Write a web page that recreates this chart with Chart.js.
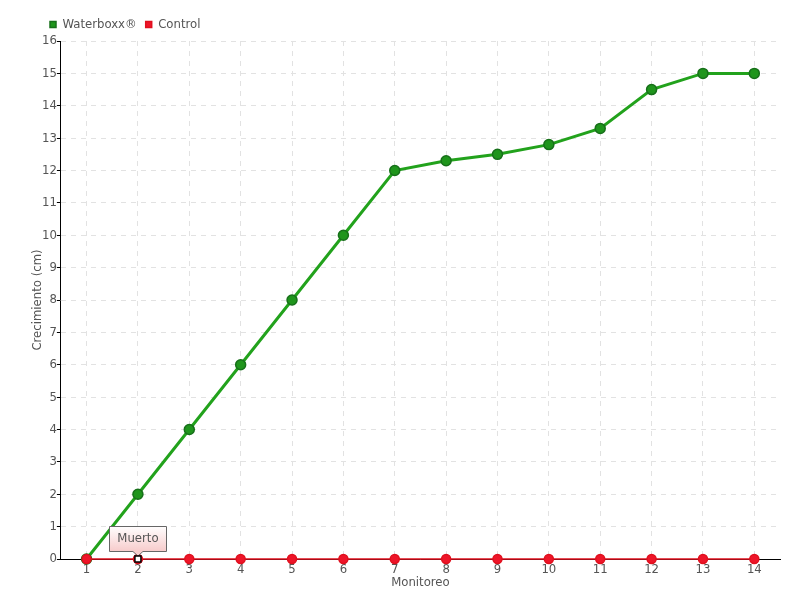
<!DOCTYPE html>
<html>
<head>
<meta charset="utf-8">
<script src="https://cdn.jsdelivr.net/npm/chart.js@4.4.0/dist/chart.umd.min.js"></script>
<style>
  body { margin: 0; background: #fff; }
</style>
</head>
<body>
<canvas id="grafico" width="800" height="600"></canvas>
<script>
const monitoreos = ["1", "2", "3", "4", "5", "6", "7", "8", "9", "10", "11", "12", "13", "14"];
const waterboxx = [0, 2, 4, 6, 8, 10, 12, 12.3, 12.5, 12.8, 13.3, 14.5, 15, 15];
const control = [0, 0, 0, 0, 0, 0, 0, 0, 0, 0, 0, 0, 0, 0];
const notaIndice = 1;
const notaTexto = "Muerto";

const fuente = "'DejaVu Sans Condensed', 'Liberation Sans Narrow', sans-serif";
const gris = '#555';

// caja "Muerto" sobre el punto del control
const notaPlugin = {
  id: 'nota',
  afterLayout(chart) {
    // leyenda un poco más a la derecha, como en el original
    chart.legend.left += 8;
  },
  afterDatasetsDraw(chart) {
    const ctx = chart.ctx;
    const x = chart.scales.x.getPixelForValue(notaIndice);
    const y = chart.scales.y.getPixelForValue(control[notaIndice]);
    ctx.save();
    ctx.font = "13px " + fuente;
    const w = Math.round(ctx.measureText(notaTexto).width + 16);
    const h = 25;
    const bx = Math.round(x - w / 2), by = Math.round(y - 8 - h);
    const grad = ctx.createLinearGradient(0, by, 0, by + h);
    grad.addColorStop(0, '#ffffff');
    grad.addColorStop(1, '#f7cccc');
    ctx.fillStyle = grad;
    ctx.strokeStyle = '#666';
    ctx.lineWidth = 1;
    ctx.beginPath();
    ctx.moveTo(bx + 0.5, by + 0.5);
    ctx.lineTo(bx + w + 0.5, by + 0.5);
    ctx.lineTo(bx + w + 0.5, by + h + 0.5);
    ctx.lineTo(x + 5, by + h + 0.5);
    ctx.lineTo(x, by + h + 5);
    ctx.lineTo(x - 5, by + h + 0.5);
    ctx.lineTo(bx + 0.5, by + h + 0.5);
    ctx.closePath();
    ctx.fill();
    ctx.stroke();
    ctx.fillStyle = gris;
    ctx.textAlign = 'center';
    ctx.textBaseline = 'middle';
    ctx.fillText(notaTexto, x, by + h / 2);
    ctx.fillStyle = '#fff';
    ctx.strokeStyle = '#000';
    ctx.lineWidth = 1.5;
    ctx.fillRect(x - 3, y - 3, 6, 6);
    ctx.strokeRect(x - 3, y - 3, 6, 6);
    ctx.restore();
  }
};

const ctx = document.getElementById('grafico').getContext('2d');
new Chart(ctx, {
  type: 'line',
  data: {
    labels: monitoreos,
    datasets: [{
      label: 'Waterboxx®',
      data: waterboxx,
      borderColor: '#22a21c',
      backgroundColor: '#1f951c',
      pointBorderColor: '#17701a',
      pointBorderWidth: 1.5,
      borderWidth: 3,
      pointRadius: 5,
      tension: 0,
      fill: false,
      clip: false,
      order: 1
    }, {
      label: 'Control',
      data: control,
      borderColor: '#e0101e',
      backgroundColor: '#ee1529',
      pointBorderColor: '#e0101e',
      borderWidth: 1.5,
      pointRadius: 4.5,
      tension: 0,
      fill: false,
      clip: false,
      order: 0
    }]
  },
  options: {
    responsive: false,
    animation: false,
    layout: { padding: { left: 33, right: 20, top: 9, bottom: 11 } },
    plugins: {
      legend: {
        align: 'start',
        labels: {
          usePointStyle: true,
          pointStyle: 'rect',
          boxWidth: 6,
          boxHeight: 6,
          padding: 9,
          color: gris,
          font: { family: fuente, size: 13 },
          sort: (a, b) => a.datasetIndex - b.datasetIndex
        }
      },
      tooltip: { enabled: false }
    },
    scales: {
      x: {
        offset: true,
        grid: { color: '#e2e2e2', tickLength: 4, tickColor: '#666' },
        border: { color: '#000', width: 1, dash: [5, 5] },
        ticks: { color: gris, font: { family: fuente, size: 13, lineHeight: 1 }, padding: 0, maxRotation: 0, autoSkip: false },
        title: { display: true, text: 'Monitoreo', color: gris, font: { family: fuente, size: 13, lineHeight: 1 }, padding: 0 }
      },
      y: {
        min: 0,
        max: 16,
        grid: { color: '#e2e2e2', tickColor: '#000', tickLength: 4 },
        border: { color: '#000', width: 1, dash: [5, 5] },
        ticks: { stepSize: 1, color: gris, font: { family: fuente, size: 13, lineHeight: 1 }, padding: 0 },
        title: { display: true, text: 'Crecimiento (cm)', color: gris, font: { family: fuente, size: 13, lineHeight: 1 }, padding: -2 }
      }
    }
  },
  plugins: [notaPlugin]
});
</script>
</body>
</html>
